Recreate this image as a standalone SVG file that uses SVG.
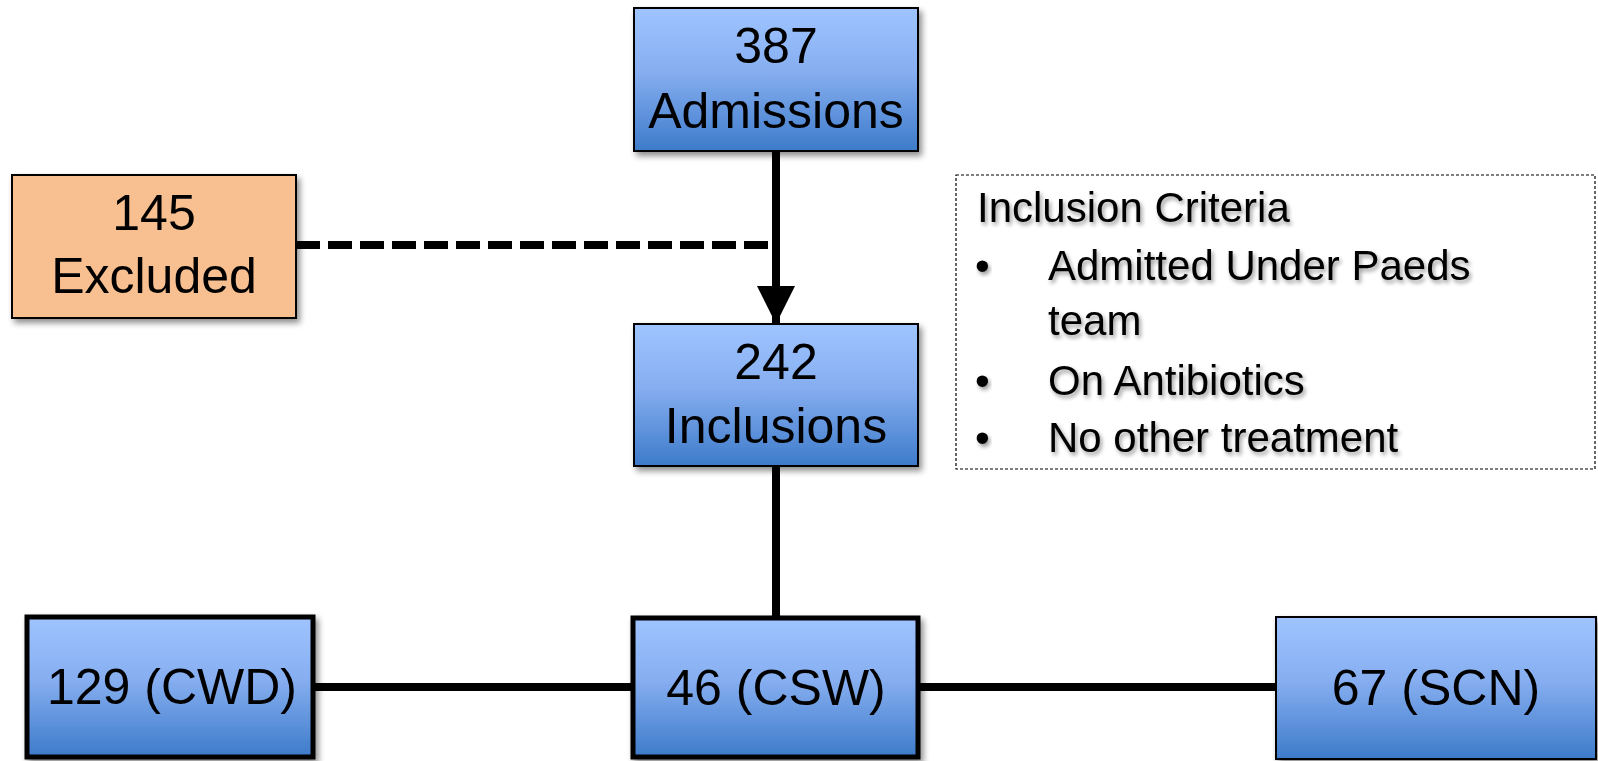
<svg xmlns="http://www.w3.org/2000/svg" width="1598" height="761" viewBox="0 0 1598 761">
<defs>
<linearGradient id="blue" x1="0" y1="0" x2="0" y2="1">
<stop offset="0" stop-color="#9fc4ff"/>
<stop offset="0.45" stop-color="#86aef0"/>
<stop offset="1" stop-color="#3d7bca"/>
</linearGradient>
<filter id="shadow" x="-10%" y="-10%" width="125%" height="130%">
<feGaussianBlur in="SourceAlpha" stdDeviation="3"/>
<feOffset dx="3" dy="4" result="b"/>
<feComponentTransfer><feFuncA type="linear" slope="0.45"/></feComponentTransfer>
<feMerge><feMergeNode/><feMergeNode in="SourceGraphic"/></feMerge>
</filter>
<filter id="tshadow" x="-5%" y="-20%" width="115%" height="160%">
<feGaussianBlur in="SourceAlpha" stdDeviation="2"/>
<feOffset dx="2" dy="3" result="b"/>
<feComponentTransfer><feFuncA type="linear" slope="0.4"/></feComponentTransfer>
<feMerge><feMergeNode/><feMergeNode in="SourceGraphic"/></feMerge>
</filter>
<marker id="arrow" markerUnits="userSpaceOnUse" markerWidth="40" markerHeight="40" refX="38" refY="19" orient="auto" viewBox="0 0 40 38">
<path d="M0,0 L38,19 L0,38 Z" fill="#000"/>
</marker>
</defs>
<style>
.box{fill:url(#blue);stroke:#000;stroke-width:2;filter:url(#shadow)}
.thick{stroke-width:5}
.excl{fill:#f8bf90;stroke:#000;stroke-width:2;filter:url(#shadow)}
.t{font-family:"Liberation Sans",Arial,sans-serif;font-size:50px;fill:#000;text-anchor:middle}
.crit{font-family:"Liberation Sans",Arial,sans-serif;font-size:42px;fill:#000;filter:url(#tshadow)}
.line{stroke:#000;stroke-width:8;fill:none}
</style>

<g id="connectors">
<line class="line" x1="776" y1="151" x2="776" y2="324" marker-end="url(#arrow)"/>
<line class="line" x1="296" y1="245" x2="776" y2="245" stroke-dasharray="24 8"/>
<line class="line" x1="776" y1="466" x2="776" y2="617"/>
<line class="line" x1="314" y1="687" x2="632" y2="687"/>
<line class="line" x1="919" y1="687" x2="1275" y2="687"/>
</g>

<g id="admissions">
<rect class="box" x="634" y="8" width="284" height="143"/>
<text class="t" x="776" y="63">387</text>
<text class="t" x="776" y="128">Admissions</text>
</g>

<g id="excluded">
<rect class="excl" x="12" y="175" width="284" height="143"/>
<text class="t" x="154" y="230">145</text>
<text class="t" x="154" y="293">Excluded</text>
</g>

<g id="inclusions">
<rect class="box" x="634" y="324" width="284" height="142"/>
<text class="t" x="776" y="379">242</text>
<text class="t" x="776" y="443">Inclusions</text>
</g>

<g id="criteria">
<rect x="956" y="175" width="639" height="294" fill="#fff" stroke="#000" stroke-width="1.2" stroke-dasharray="3 2"/>
<text class="crit" x="977" y="222">Inclusion Criteria</text>
<text class="crit" x="975" y="280">•</text>
<text class="crit" x="1048" y="280">Admitted Under Paeds</text>
<text class="crit" x="1048" y="335">team</text>
<text class="crit" x="975" y="395">•</text>
<text class="crit" x="1048" y="395">On Antibiotics</text>
<text class="crit" x="975" y="452">•</text>
<text class="crit" x="1048" y="452">No other treatment</text>
</g>

<g id="cwd">
<rect class="box thick" x="27" y="617" width="286" height="140"/>
<text class="t" x="172" y="704">129 (CWD)</text>
</g>

<g id="csw">
<rect class="box thick" x="633" y="618" width="285" height="139"/>
<text class="t" x="776" y="705">46 (CSW)</text>
</g>

<g id="scn">
<rect class="box" x="1276" y="617" width="320" height="142"/>
<text class="t" x="1436" y="705">67 (SCN)</text>
</g>
</svg>
